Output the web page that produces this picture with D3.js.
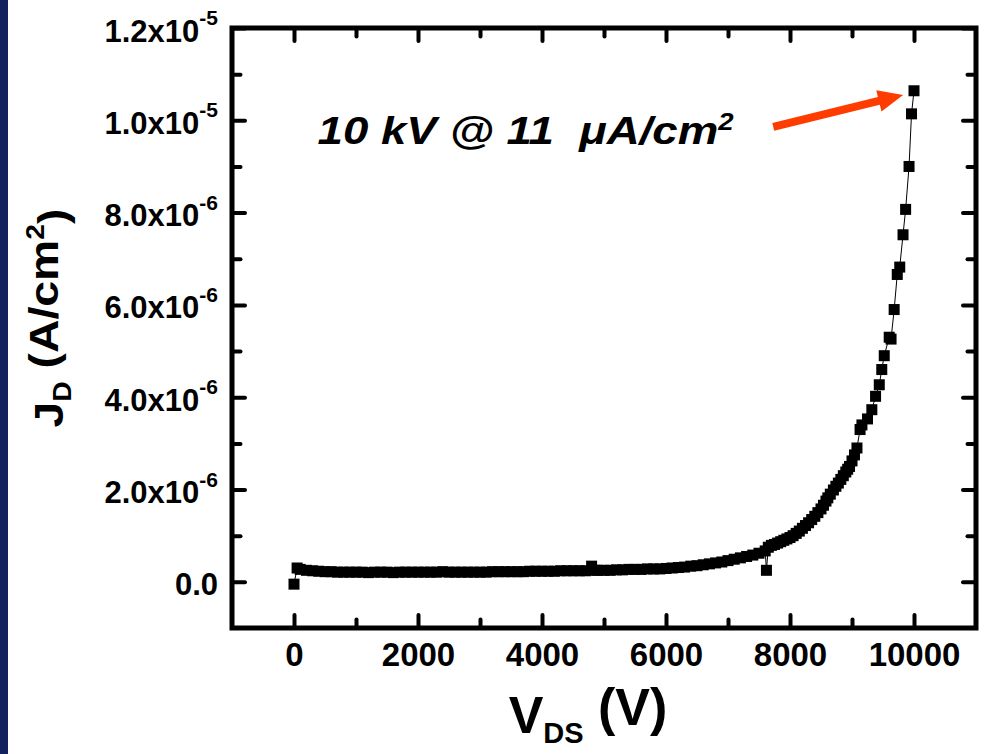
<!DOCTYPE html>
<html>
<head>
<meta charset="utf-8">
<script src="https://cdn.jsdelivr.net/npm/d3@7"></script>
<style>
  body { margin: 0; background: #fff; }
  text { font-family: "Liberation Sans", Arial, sans-serif; font-weight: bold; fill: #000; }
</style>
</head>
<body>
<div id="chart"></div>
<script>
// SVG size
var svgWidth = 984;
var svgHeight = 754;

// plot frame (the box drawn around the data)
var frame = { left: 232, top: 28, right: 976, bottom: 628 };

// Data: drain voltage (V) and current density (uA/cm2)
var vds = [0, 50, 100, 200, 300, 400, 500, 600, 700, 800, 900,
  1000, 1100, 1200, 1300, 1400, 1500, 1600, 1700, 1800, 1900,
  2000, 2100, 2200, 2300, 2400, 2500, 2600, 2700, 2800, 2900,
  3000, 3100, 3200, 3300, 3400, 3500, 3600, 3700, 3800, 3900,
  4000, 4100, 4200, 4300, 4400, 4500, 4600, 4700, 4800, 4850, 4900,
  5000, 5100, 5200, 5300, 5400, 5500, 5600, 5700, 5800, 5900,
  6000, 6100, 6200, 6300, 6400, 6500, 6600, 6700, 6800, 6900,
  7000, 7100, 7200, 7300, 7400, 7500, 7600, 7620, 7650, 7700, 7750, 7800, 7850, 7900, 7950,
  8000, 8050, 8100, 8150, 8200, 8250, 8300, 8350, 8400, 8450, 8500, 8540, 8580, 8610,
  8650, 8700, 8740, 8780, 8820, 8860, 8900, 8930, 8960,
  9000, 9040, 9080, 9130, 9160, 9250, 9320, 9380, 9440, 9480, 9520,
  9600, 9630, 9680, 9730, 9770, 9823, 9865, 9920, 9960, 10000];

var jdMicro = [-0.05, 0.30, 0.27, 0.25, 0.24, 0.23, 0.22, 0.22, 0.21, 0.21, 0.21,
  0.21, 0.21, 0.20, 0.21, 0.21, 0.21, 0.20, 0.21, 0.21, 0.21,
  0.21, 0.21, 0.21, 0.21, 0.22, 0.21, 0.21, 0.21, 0.21, 0.21,
  0.21, 0.21, 0.22, 0.22, 0.22, 0.22, 0.22, 0.22, 0.23, 0.23,
  0.23, 0.23, 0.23, 0.24, 0.24, 0.24, 0.24, 0.24, 0.34, 0.25, 0.25,
  0.25, 0.25, 0.26, 0.26, 0.27, 0.27, 0.27, 0.28, 0.28, 0.28,
  0.29, 0.30, 0.31, 0.32, 0.34, 0.35, 0.37, 0.39, 0.41, 0.43,
  0.46, 0.49, 0.52, 0.55, 0.58, 0.62, 0.67, 0.25, 0.75, 0.79, 0.81, 0.84, 0.87, 0.90, 0.93,
  0.96, 1.00, 1.05, 1.10, 1.16, 1.22, 1.28, 1.35, 1.42, 1.50, 1.58, 1.66, 1.75, 1.82,
  1.90, 1.99, 2.07, 2.14, 2.22, 2.30, 2.38, 2.44, 2.50,
  2.62, 2.75, 2.90, 3.30, 3.40, 3.53, 3.73, 4.02, 4.27, 4.60, 4.90,
  5.30, 5.26, 5.90, 6.66, 6.82, 7.52, 8.07, 9.00, 10.14, 10.64];

// tick values
var xMajorTicks = [0, 2000, 4000, 6000, 8000, 10000];
var xMinorTicks = [1000, 3000, 5000, 7000, 9000];
var yMajorTicks = [0, 2e-6, 4e-6, 6e-6, 8e-6, 1.0e-5, 1.2e-5];
var yMinorTicks = [1e-6, 3e-6, 5e-6, 7e-6, 9e-6, 1.1e-5];
var yTickBase = ["0.0", "2.0x10", "4.0x10", "6.0x10", "8.0x10", "1.0x10", "1.2x10"];
var yTickExp = ["", "-6", "-6", "-6", "-6", "-5", "-5"];

// annotation: arrow tail / tip and text anchor in data units (V, A/cm2)
var arrowFrom = [7730, 9.86e-6];
var arrowTo = [9825, 10.55e-6];
var noteAt = [380, 9.48e-6];

var svg = d3.select("#chart")
  .append("svg")
  .attr("width", svgWidth)
  .attr("height", svgHeight);

svg.append("rect")
  .attr("width", svgWidth)
  .attr("height", svgHeight)
  .attr("fill", "#fff");

// dark blue strip down the left side
svg.append("rect")
  .attr("x", 0)
  .attr("y", 0)
  .attr("width", 8)
  .attr("height", svgHeight)
  .attr("fill", "#11225f");

var xScale = d3.scaleLinear()
  .domain([-1000, 11000])
  .range([frame.left, frame.right]);

var yScale = d3.scaleLinear()
  .domain([-1e-6, 1.2e-5])
  .range([frame.bottom, frame.top]);

var points = vds.map(function (v, i) {
  return { v: v, j: jdMicro[i] * 1e-6 };
});

var majorLen = -13;
var minorLen = -8.5;

// axes: ticks point inward, labels on bottom and left only
function styleTicks(g) {
  g.select(".domain").remove();
  g.selectAll(".tick line")
    .attr("stroke", "#000")
    .attr("stroke-width", 4)
    .attr("stroke-linecap", "round");
}

// bottom
svg.append("g")
  .attr("transform", `translate(0, ${frame.bottom})`)
  .call(d3.axisBottom(xScale).tickValues(xMinorTicks).tickSize(minorLen).tickFormat(""))
  .call(styleTicks);

svg.append("g")
  .attr("transform", `translate(0, ${frame.bottom})`)
  .call(d3.axisBottom(xScale).tickValues(xMajorTicks).tickSize(majorLen).tickPadding(15)
    .tickFormat(d3.format("d")))
  .call(styleTicks)
  .call(function (g) {
    g.selectAll("text")
      .attr("fill", "#000")
      .style("font-size", "33px");
  });

// top
svg.append("g")
  .attr("transform", `translate(0, ${frame.top})`)
  .call(d3.axisTop(xScale).tickValues(xMinorTicks).tickSize(minorLen).tickFormat(""))
  .call(styleTicks);
svg.append("g")
  .attr("transform", `translate(0, ${frame.top})`)
  .call(d3.axisTop(xScale).tickValues(xMajorTicks).tickSize(majorLen).tickFormat(""))
  .call(styleTicks);

// left
svg.append("g")
  .attr("transform", `translate(${frame.left}, 0)`)
  .call(d3.axisLeft(yScale).tickValues(yMinorTicks).tickSize(minorLen).tickFormat(""))
  .call(styleTicks);

svg.append("g")
  .attr("transform", `translate(${frame.left}, 0)`)
  .call(d3.axisLeft(yScale).tickValues(yMajorTicks).tickSize(majorLen).tickPadding(14)
    .tickFormat(""))
  .call(styleTicks)
  .call(function (g) {
    g.selectAll(".tick text").each(function (d, i) {
      var t = d3.select(this)
        .attr("fill", "#000")
        .attr("dy", "0.42em")
        .style("font-size", "31px");
      t.append("tspan").text(yTickBase[i]);
      if (yTickExp[i]) {
        t.append("tspan")
          .attr("dy", "-0.78em")
          .style("font-size", "21px")
          .text(yTickExp[i]);
      }
    });
  });

// right
svg.append("g")
  .attr("transform", `translate(${frame.right}, 0)`)
  .call(d3.axisRight(yScale).tickValues(yMinorTicks).tickSize(minorLen).tickFormat(""))
  .call(styleTicks);
svg.append("g")
  .attr("transform", `translate(${frame.right}, 0)`)
  .call(d3.axisRight(yScale).tickValues(yMajorTicks).tickSize(majorLen).tickFormat(""))
  .call(styleTicks);

// frame
svg.append("rect")
  .attr("x", frame.left)
  .attr("y", frame.top)
  .attr("width", frame.right - frame.left)
  .attr("height", frame.bottom - frame.top)
  .attr("fill", "none")
  .attr("stroke", "#000")
  .attr("stroke-width", 5);

// thin connecting line
var line = d3.line()
  .x(d => xScale(d.v))
  .y(d => yScale(d.j));

svg.append("path")
  .datum(points)
  .attr("d", line)
  .attr("fill", "none")
  .attr("stroke", "#000")
  .attr("stroke-width", 1);

// square markers
var sq = 11;
svg.append("g")
  .selectAll("rect")
  .data(points)
  .enter()
  .append("rect")
  .attr("x", d => xScale(d.v) - sq / 2)
  .attr("y", d => yScale(d.j) - sq / 2)
  .attr("width", sq)
  .attr("height", sq)
  .attr("fill", "#000");

// axis titles
var yTitle = svg.append("text")
  .attr("transform", "translate(63, 318) rotate(-90) scale(1.13, 1)")
  .attr("text-anchor", "middle")
  .style("font-size", "41px");
yTitle.append("tspan").text("J");
yTitle.append("tspan").attr("dy", "0.3em").style("font-size", "25px").text("D");
yTitle.append("tspan").attr("dy", "-0.3em").text("\u00a0(A/cm");
yTitle.append("tspan").attr("dy", "-0.55em").style("font-size", "25px").text("2");
yTitle.append("tspan").attr("dy", "0.55em").text(")");

var xTitle = svg.append("text")
  .attr("x", 588)
  .attr("y", 733)
  .attr("text-anchor", "middle")
  .style("font-size", "52px");
xTitle.append("tspan").text("V");
xTitle.append("tspan").attr("dy", "0.36em").style("font-size", "29px").text("DS");
xTitle.append("tspan").attr("dy", "-0.36em").text("\u00a0(V)");

// annotation
var note = svg.append("text")
  .attr("transform", `translate(${xScale(noteAt[0])}, ${yScale(noteAt[1])}) scale(1.2, 1)`)
  .style("font-size", "38px")
  .style("font-style", "italic");
note.append("tspan").text("10 kV @ 11 \u00a0\u03bcA/cm");
note.append("tspan").attr("dy", "-0.62em").style("font-size", "23px").text("2");

// red arrow, built from the tail and tip in data units
var x0 = xScale(arrowFrom[0]), y0 = yScale(arrowFrom[1]);
var x1 = xScale(arrowTo[0]), y1 = yScale(arrowTo[1]);
var ang = Math.atan2(y1 - y0, x1 - x0) * 180 / Math.PI;
var len = Math.hypot(x1 - x0, y1 - y0);
var headLen = 25, headHalf = 11, shaftHalf = 4;
svg.append("path")
  .attr("transform", `translate(${x0}, ${y0}) rotate(${ang})`)
  .attr("d", `M0,${-shaftHalf} L${len - headLen},${-shaftHalf} L${len - headLen},${-headHalf} ` +
    `L${len},0 L${len - headLen},${headHalf} L${len - headLen},${shaftHalf} L0,${shaftHalf} Z`)
  .attr("fill", "#ff3c00");
</script>
</body>
</html>
